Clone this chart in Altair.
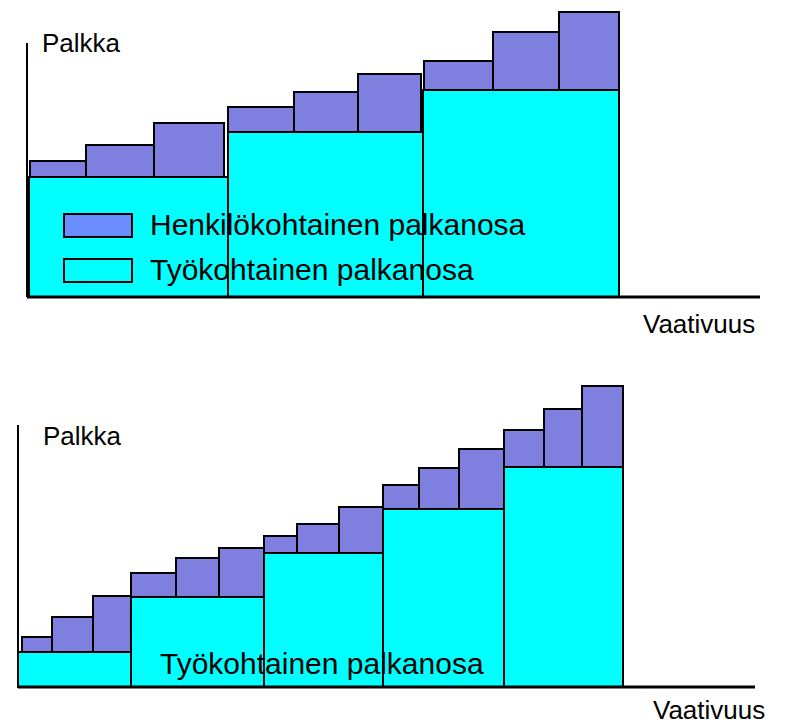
import altair as alt
import pandas as pd

# ---------------- data ----------------
LEGEND_LABELS = ["Henkilökohtainen palkanosa", "Työkohtainen palkanosa"]

# upper panel: 3 job levels, each with 3 personal steps
TOP_JOB_START = [2, 201, 396]
TOP_JOB_END = [201, 396, 592]
TOP_JOB_PAY = [120, 165, 207]
TOP_PERS_GROUP = [0, 0, 0, 1, 1, 1, 2, 2, 2]
TOP_PERS_START = [3, 59, 127, 201, 267, 331, 397, 466, 532]
TOP_PERS_END = [59, 127, 197, 267, 331, 394, 466, 532, 592]
TOP_PERS_TOTAL = [136, 152, 174, 190, 205, 223, 236, 265, 285]

# lower panel: 5 job levels, each with 3 personal steps
BOT_JOB_START = [0, 113, 246, 365, 486]
BOT_JOB_END = [113, 246, 365, 486, 605]
BOT_JOB_PAY = [35, 90, 134, 178, 220]
BOT_PERS_GROUP = [0, 0, 0, 1, 1, 1, 2, 2, 2, 3, 3, 3, 4, 4, 4]
BOT_PERS_START = [4, 34, 75, 113, 158, 201, 246, 279, 321, 365, 401, 441, 486, 526, 564]
BOT_PERS_END = [34, 75, 113, 158, 201, 246, 279, 321, 365, 401, 441, 486, 526, 564, 605]
BOT_PERS_TOTAL = [50, 70, 91, 114, 129, 139, 151, 163, 180, 202, 219, 238, 257, 278, 301]

CYAN = "#00FFFF"
PURPLE = "#7F7FDF"
LEGEND_BLUE = "#6A8DFF"
FONT = "Liberation Sans"


def panel(job_start, job_end, job_pay, pers_group, pers_start, pers_end, pers_total,
          xdom, ydom, w, h, axis_top, axis_right, palkka_pos, vaat_pos, legend, inline_label):
    job = pd.DataFrame({"x0": job_start, "x1": job_end,
                        "y0": [0] * len(job_pay), "y1": job_pay})
    pers = pd.DataFrame({"x0": pers_start, "x1": pers_end,
                         "y0": [job_pay[g] for g in pers_group], "y1": pers_total})
    xs = alt.Scale(domain=xdom, nice=False, zero=False)
    ys = alt.Scale(domain=ydom, nice=False, zero=False)

    def rects(df, color):
        return alt.Chart(df).mark_rect(fill=color, stroke="black", strokeWidth=2).encode(
            x=alt.X("x0:Q", scale=xs, axis=None), x2="x1",
            y=alt.Y("y0:Q", scale=ys, axis=None), y2="y1")

    axes = alt.Chart(pd.DataFrame({"x0": [0, 0], "x1": [0, axis_right],
                                   "y0": [0, 0], "y1": [axis_top, 0],
                                   "w": [2, 3]})).mark_rule(color="black").encode(
        x=alt.X("x0:Q", scale=xs, axis=None), x2="x1",
        y=alt.Y("y0:Q", scale=ys, axis=None), y2="y1",
        strokeWidth=alt.StrokeWidth("w:Q", scale=None, legend=None))

    texts = [("Palkka", palkka_pos[0], palkka_pos[1], 26),
             ("Vaativuus", vaat_pos[0], vaat_pos[1], 26)]
    if inline_label:
        texts.append((LEGEND_LABELS[1], inline_label[0], inline_label[1], 30))
    tdf = pd.DataFrame({"t": [t[0] for t in texts], "x": [t[1] for t in texts],
                        "y": [t[2] for t in texts], "s": [t[3] for t in texts]})
    labels = alt.Chart(tdf).mark_text(align="left", baseline="alphabetic", font=FONT,
                                      color="black").encode(
        x=alt.X("x:Q", scale=xs, axis=None), y=alt.Y("y:Q", scale=ys, axis=None),
        text="t:N", size=alt.Size("s:Q", scale=None, legend=None))

    layers = [rects(job, CYAN), rects(pers, PURPLE), axes, labels]

    if legend:
        ldf = pd.DataFrame({"osa": LEGEND_LABELS, "x": [xdom[1] + 500] * 2, "y": [0, 0]})
        leg = alt.Chart(ldf).mark_point(filled=True, clip=True, stroke="black",
                                        strokeWidth=2).encode(
            x=alt.X("x:Q", scale=xs, axis=None), y=alt.Y("y:Q", scale=ys, axis=None),
            color=alt.Color("osa:N",
                            scale=alt.Scale(domain=LEGEND_LABELS, range=[LEGEND_BLUE, CYAN]),
                            legend=alt.Legend(title=None, orient="none", direction="vertical",
                                              legendX=legend[0], legendY=legend[1],
                                              symbolType="M-1,-0.34H1V0.34H-1Z",
                                              symbolSize=4624, symbolStrokeColor="black",
                                              symbolStrokeWidth=2, symbolOpacity=1,
                                              labelFont=FONT, labelFontSize=30,
                                              labelColor="black", labelLimit=800,
                                              labelOffset=17, clipHeight=45,
                                              rowPadding=0, padding=0)))
        layers.append(leg)

    return alt.layer(*layers).properties(width=w, height=h)


top = panel(TOP_JOB_START, TOP_JOB_END, TOP_JOB_PAY, TOP_PERS_GROUP, TOP_PERS_START,
            TOP_PERS_END, TOP_PERS_TOTAL,
            xdom=[-19, 754], ydom=[-48, 289], w=773, h=337,
            axis_top=254, axis_right=733, palkka_pos=(15, 245), vaat_pos=(616, -36),
            legend=(55, 195), inline_label=None)

bottom = panel(BOT_JOB_START, BOT_JOB_END, BOT_JOB_PAY, BOT_PERS_GROUP, BOT_PERS_START,
               BOT_PERS_END, BOT_PERS_TOTAL,
               xdom=[-10, 763], ydom=[-38, 342], w=773, h=380,
               axis_top=262, axis_right=737, palkka_pos=(25, 242), vaat_pos=(635, -32),
               legend=None, inline_label=(142, 13))

chart = alt.vconcat(top, bottom, spacing=0).resolve_scale(
    x="independent", y="independent", color="independent").properties(
    padding=0).configure_view(stroke=None)

chart.save("out.html", embed_options={"renderer": "svg", "actions": False})
